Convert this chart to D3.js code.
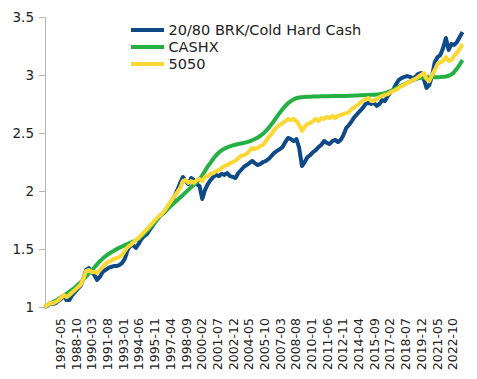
<!DOCTYPE html>
<html><head><meta charset="utf-8">
<script src="https://cdn.jsdelivr.net/npm/d3@7"></script>
<style>body{margin:0;background:#fff}svg{display:block}</style>
</head><body><svg id="c" width="477" height="379"></svg>
<script>
// monthly series sampled every 3 months, starting at startMonth
const startMonth = "1985-12";
const stepMonths = 3;
const seriesNames = ["20/80 BRK/Cold Hard Cash", "CASHX", "5050"];
const brk2080 = [
1.000,1.009,1.034,1.026,1.034,1.052,1.069,1.095,1.060,1.060,
1.103,1.129,1.155,1.181,1.241,1.319,1.336,1.302,1.276,1.233,
1.259,1.302,1.319,1.336,1.345,1.353,1.353,1.362,1.379,1.414,
1.491,1.526,1.534,1.509,1.543,1.586,1.612,1.629,1.664,1.698,
1.733,1.767,1.793,1.810,1.836,1.871,1.914,1.957,2.009,2.069,
2.121,2.086,2.060,2.112,2.095,2.060,2.043,1.931,2.009,2.060,
2.095,2.121,2.138,2.129,2.147,2.138,2.155,2.129,2.121,2.112,
2.155,2.181,2.207,2.224,2.241,2.259,2.241,2.224,2.233,2.250,
2.259,2.276,2.302,2.328,2.345,2.362,2.379,2.422,2.457,2.448,
2.431,2.448,2.371,2.215,2.250,2.293,2.310,2.336,2.353,2.379,
2.397,2.431,2.414,2.405,2.431,2.440,2.422,2.440,2.483,2.543,
2.569,2.603,2.638,2.664,2.690,2.716,2.750,2.759,2.750,2.759,
2.733,2.750,2.784,2.776,2.819,2.853,2.871,2.922,2.957,2.974,
2.983,2.991,2.983,2.974,2.983,3.009,3.017,2.966,2.888,2.914,
2.991,3.112,3.155,3.172,3.233,3.319,3.216,3.267,3.259,3.284,
3.328,3.371];
const cashx = [
1.000,1.013,1.027,1.041,1.055,1.069,1.084,1.100,1.116,1.133,
1.150,1.168,1.190,1.212,1.236,1.262,1.290,1.315,1.340,1.368,
1.395,1.417,1.437,1.455,1.470,1.484,1.497,1.510,1.522,1.533,
1.543,1.553,1.563,1.576,1.590,1.610,1.633,1.655,1.680,1.705,
1.733,1.760,1.790,1.812,1.834,1.856,1.878,1.900,1.922,1.944,
1.966,1.988,2.010,2.033,2.055,2.078,2.100,2.135,2.175,2.212,
2.245,2.278,2.308,2.332,2.350,2.365,2.376,2.385,2.393,2.399,
2.405,2.410,2.415,2.420,2.428,2.437,2.448,2.460,2.476,2.495,
2.518,2.545,2.575,2.608,2.642,2.675,2.705,2.733,2.757,2.775,
2.790,2.800,2.806,2.809,2.811,2.812,2.813,2.814,2.815,2.815,
2.816,2.816,2.817,2.817,2.818,2.818,2.819,2.819,2.820,2.820,
2.821,2.822,2.823,2.824,2.825,2.826,2.827,2.828,2.829,2.830,
2.832,2.834,2.838,2.844,2.852,2.862,2.873,2.885,2.897,2.909,
2.921,2.933,2.944,2.955,2.964,2.972,2.977,2.979,2.980,2.980,
2.980,2.980,2.981,2.982,2.984,2.987,2.993,3.005,3.025,3.055,
3.090,3.128];
const fiftyFifty = [
1.000,1.017,1.034,1.030,1.043,1.060,1.078,1.103,1.086,1.103,
1.125,1.147,1.168,1.190,1.241,1.310,1.319,1.302,1.302,1.293,
1.319,1.345,1.371,1.388,1.397,1.414,1.422,1.431,1.448,1.483,
1.517,1.534,1.552,1.578,1.595,1.621,1.647,1.672,1.698,1.724,
1.750,1.776,1.793,1.819,1.853,1.888,1.922,1.957,1.991,2.026,
2.086,2.095,2.069,2.086,2.069,2.095,2.103,2.086,2.121,2.129,
2.147,2.155,2.172,2.181,2.198,2.216,2.224,2.241,2.250,2.259,
2.284,2.302,2.310,2.319,2.345,2.371,2.362,2.371,2.388,2.397,
2.431,2.466,2.491,2.526,2.552,2.569,2.586,2.603,2.621,2.612,
2.621,2.603,2.569,2.517,2.552,2.578,2.586,2.603,2.621,2.603,
2.629,2.621,2.638,2.629,2.647,2.629,2.647,2.655,2.664,2.672,
2.681,2.707,2.724,2.741,2.759,2.776,2.793,2.802,2.776,2.776,
2.793,2.810,2.819,2.828,2.836,2.853,2.862,2.871,2.888,2.905,
2.914,2.931,2.940,2.957,2.966,2.983,3.000,3.017,2.966,2.948,
3.000,3.043,3.095,3.112,3.121,3.155,3.121,3.129,3.164,3.190,
3.224,3.267];
const xTickLabels = ["1987-05","1988-10","1990-03","1991-08","1993-01","1994-06","1995-11",
"1997-04","1998-09","2000-02","2001-07","2002-12","2004-05","2005-10","2007-03","2008-08",
"2010-01","2011-06","2012-11","2014-04","2015-09","2017-02","2018-07","2019-12","2021-05","2022-10"];
const yTicks = [1, 1.5, 2, 2.5, 3, 3.5];
const colors = ["#0f4a88", "#25b044", "#fdd835"];

const FONT = "DejaVu Sans, Verdana, sans-serif";
const TEXT = "#222";
function monthIndex(s){ const [yy, mm] = s.split("-").map(Number); return yy*12 + mm - 1; }
const m0 = monthIndex(startMonth);
const lastM = (brk2080.length - 1) * stepMonths;

const svg = d3.select("#c");
const x = d3.scaleLinear().domain([0, lastM]).range([44.5, 462.5]);
const y = d3.scaleLinear().domain([1, 3.5]).range([307, 17]);

// y axis
const ya = svg.append("g").attr("transform", "translate(45,0)")
  .call(d3.axisLeft(y).tickValues(yTicks).tickSize(6).tickSizeOuter(0).tickPadding(5).tickFormat(d => String(d)));
ya.select(".domain").attr("stroke", "#b4b4b4");
ya.selectAll(".tick line").attr("stroke", "#b4b4b4");
ya.selectAll("text").attr("font-family", FONT).attr("font-size", 13.5).attr("fill", TEXT);

// x axis labels
const xa = svg.append("g").attr("transform", "translate(0,307)")
  .call(d3.axisBottom(x).tickValues(xTickLabels.map(s => monthIndex(s) - m0)).tickSize(0)
    .tickFormat((d, i) => xTickLabels[i]));
xa.select(".domain").remove();
xa.selectAll("text").attr("font-family", FONT).attr("font-size", 12.5).attr("fill", TEXT)
  .attr("transform", "rotate(-90)").attr("text-anchor", "end")
  .attr("x", -11).attr("y", 0).attr("dy", "0.35em");

// lines
const line = d3.line().x((d, i) => x(i * stepMonths)).y(d => y(d)).curve(d3.curveLinear);
[brk2080, cashx, fiftyFifty].forEach((s, k) => {
  svg.append("path").datum(s).attr("d", line).attr("fill", "none")
    .attr("stroke", colors[k]).attr("stroke-width", 4)
    .attr("stroke-linejoin", "round").attr("stroke-linecap", "butt");
});

// legend
const lg = svg.append("g");
seriesNames.forEach((n, k) => {
  const yy = 30 + k * 17;
  lg.append("line").attr("x1", 131).attr("x2", 164).attr("y1", yy).attr("y2", yy)
    .attr("stroke", colors[k]).attr("stroke-width", 4);
  lg.append("text").attr("x", 168.5).attr("y", yy).attr("dy", "0.36em")
    .attr("font-family", FONT).attr("font-size", 14.5).attr("fill", TEXT).text(n);
});
</script></body></html>
